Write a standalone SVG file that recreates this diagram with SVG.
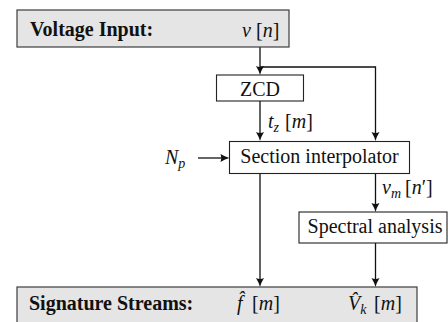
<svg xmlns="http://www.w3.org/2000/svg" width="448" height="322" viewBox="0 0 448 322">
  <style>
    .io { fill: #e5e5e5; stroke: #3c3c3c; stroke-width: 1.2; }
    .blk { fill: #ffffff; stroke: #222222; stroke-width: 1.1; }
    text { font-family: 'Liberation Serif', 'DejaVu Serif', serif; font-size: 20px; fill: #111111; }
    .b { font-weight: bold; }
    .m { font-style: italic; }
    .sub { font-size: 14px; font-style: italic; }
    .mid { text-anchor: middle; }
    .wire { fill: none; stroke: #111111; stroke-width: 1.3; }
  </style>
  <defs>
    <marker id="arr" markerUnits="userSpaceOnUse" markerWidth="12" markerHeight="12" refX="4" refY="0" viewBox="-1 -6 12 12" orient="auto" overflow="visible">
      <path d="M0,-4 Q4.5,-1.2 9,0 Q4.5,1.2 0,4 Q1.8,0 0,-4 Z" fill="#111111"/>
    </marker>
  </defs>

  <!-- connectors -->
  <g id="connectors" class="wire" marker-end="url(#arr)">
    <path d="M260,47 V70"/>
    <path d="M260,67 H375.5 V136"/>
    <path d="M260,101 V136"/>
    <path d="M198,158 H224.5"/>
    <path d="M260,173.5 V282"/>
    <path d="M375.5,173.5 V207"/>
    <path d="M375.5,243 V282"/>
  </g>

  <!-- voltage input -->
  <g id="voltage-input">
    <rect class="io" x="17" y="10" width="272" height="37"/>
    <text class="b" x="30" y="36">Voltage Input:</text>
    <text y="37"><tspan class="m" x="242">v</tspan><tspan x="256">[</tspan><tspan class="m">n</tspan><tspan>]</tspan></text>
  </g>

  <!-- zero crossing detector -->
  <g id="zcd">
    <rect class="blk" x="216.5" y="75" width="87" height="26"/>
    <text class="mid" x="260" y="96">ZCD</text>
  </g>

  <!-- label on ZCD output -->
  <g id="label-tz">
    <text y="128"><tspan class="m" x="268">t</tspan><tspan class="sub" dy="4">z</tspan><tspan x="285" dy="-4">[</tspan><tspan class="m">m</tspan><tspan>]</tspan></text>
  </g>

  <!-- Np input -->
  <g id="np">
    <text y="164"><tspan class="m" x="165">N</tspan><tspan class="sub" dy="4">p</tspan></text>
  </g>

  <!-- section interpolator -->
  <g id="section-interpolator">
    <rect class="blk" x="229.5" y="141.5" width="180" height="32"/>
    <text class="mid" x="319.5" y="163">Section interpolator</text>
  </g>

  <!-- label on interpolator output -->
  <g id="label-vm">
    <text y="194"><tspan class="m" x="382">v</tspan><tspan class="sub" dy="4">m</tspan><tspan x="405" dy="-4">[</tspan><tspan class="m">n</tspan><tspan>′]</tspan></text>
  </g>

  <!-- spectral analysis -->
  <g id="spectral-analysis">
    <rect class="blk" x="299" y="212" width="148" height="31"/>
    <text class="mid" x="375" y="233">Spectral analysis</text>
  </g>

  <!-- signature streams -->
  <g id="signature-streams">
    <rect class="io" x="17" y="287" width="400" height="42"/>
    <text class="b" x="29" y="310">Signature Streams:</text>
    <text y="310"><tspan class="m" x="237">f̂</tspan><tspan x="252">[</tspan><tspan class="m">m</tspan><tspan>]</tspan></text>
    <text y="310"><tspan class="m" x="348">V̂</tspan><tspan class="sub" dy="4">k</tspan><tspan x="374" dy="-4">[</tspan><tspan class="m">m</tspan><tspan>]</tspan></text>
  </g>
</svg>
